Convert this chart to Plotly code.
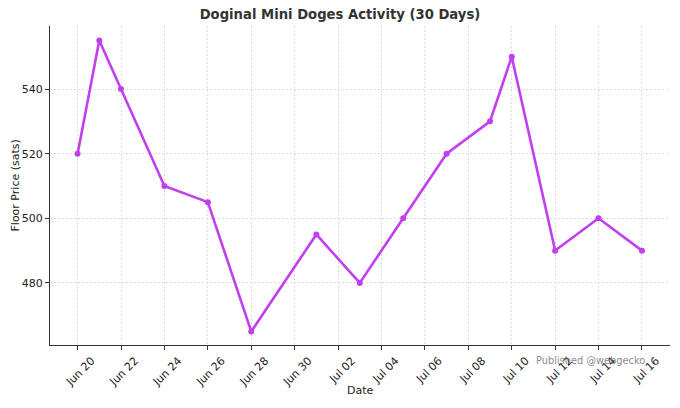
import plotly.graph_objects as go

dates = ["2024-06-20", "2024-06-21", "2024-06-22", "2024-06-24", "2024-06-26",
         "2024-06-28", "2024-07-01", "2024-07-03", "2024-07-05", "2024-07-07",
         "2024-07-09", "2024-07-10", "2024-07-12", "2024-07-14", "2024-07-16"]
floor_price = [520, 555, 540, 510, 505, 465, 495, 480, 500, 520, 530, 550, 490, 500, 490]
y_ticks = [480, 500, 520, 540]

color = "#c23ff0"
font = "DejaVu Sans"

fig = go.Figure()
fig.add_trace(go.Scatter(
    x=dates, y=floor_price, mode="lines+markers",
    line=dict(color=color, width=2.6),
    marker=dict(color=color, size=6),
))

fig.update_layout(
    width=680, height=408,
    margin=dict(l=50, r=10, t=26, b=63),
    paper_bgcolor="white", plot_bgcolor="white",
    font=dict(family=font, size=11, color="#222"),
    title=dict(text="<b>Doginal Mini Doges Activity (30 Days)</b>",
               x=0.5, xanchor="center", y=0.975, yanchor="top",
               font=dict(size=13.2, color="#333")),
    showlegend=False,
)
fig.update_xaxes(
    type="date", automargin=False,
    range=["2024-06-18 17:30", "2024-07-17 07:00"],
    tick0="2024-06-20", dtick=2 * 86400000, tickformat="%b %d",
    tickangle=-45, ticklabelshift=14,
    tickfont=dict(size=11, color="#222"),
    showgrid=True, gridcolor="#dcdcdc", griddash="2px,2px", gridwidth=1,
    showline=True, linecolor="#333", linewidth=1,
    ticks="outside", ticklen=4, tickcolor="#333",
    zeroline=False,
)
fig.update_yaxes(
    automargin=False,
    range=[460.8, 559.5],
    tickvals=y_ticks,
    tickfont=dict(size=11, color="#222"),
    showgrid=True, gridcolor="#dcdcdc", griddash="2px,2px", gridwidth=1,
    showline=True, linecolor="#333", linewidth=1,
    ticks="outside", ticklen=4, tickcolor="#333",
    zeroline=False,
)
fig.add_annotation(
    text="Floor Price (sats)", xref="paper", yref="paper",
    x=0, y=0.5, xshift=-35, textangle=-90,
    xanchor="center", yanchor="middle", showarrow=False,
    font=dict(family=font, size=11, color="#222"),
)
fig.add_annotation(
    text="Date", xref="paper", yref="paper",
    x=0.5, y=0, yshift=-45, xanchor="center", yanchor="middle", showarrow=False,
    font=dict(family=font, size=11, color="#222"),
)
fig.add_annotation(
    text="Published @webgecko", xref="paper", yref="paper",
    x=0.871, y=-0.05, xanchor="center", yanchor="middle", showarrow=False,
    font=dict(family=font, size=9.8, color="rgba(115,115,115,0.85)"),
)
fig.write_html("out.html", config={"displayModeBar": False},
               post_script="document.body.style.margin='0';")
